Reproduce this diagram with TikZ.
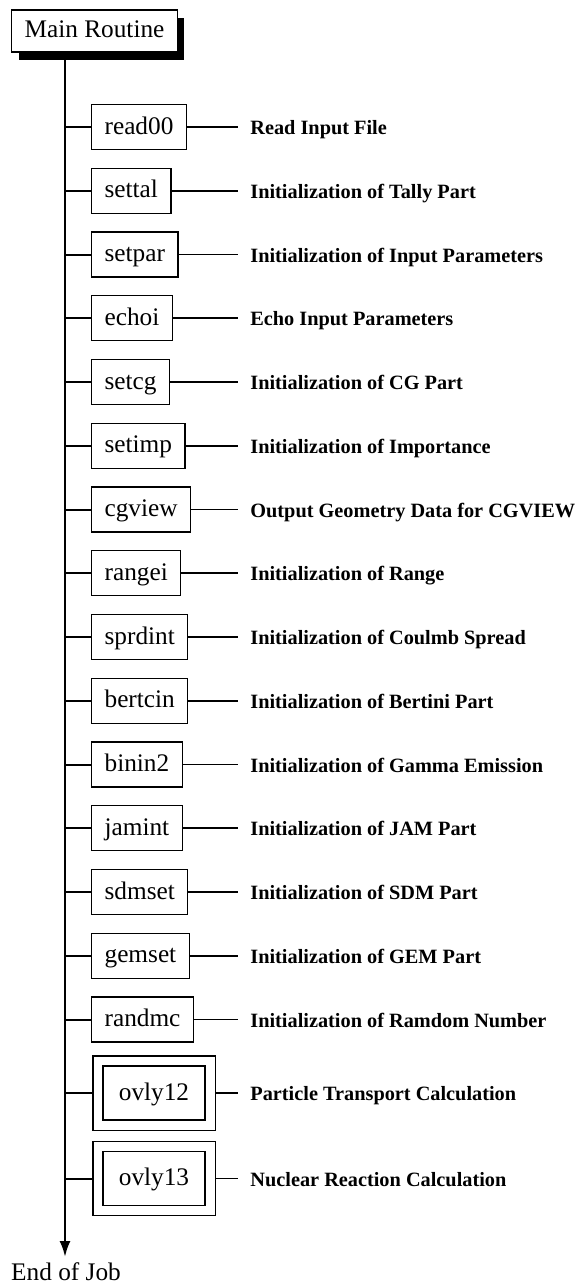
\documentclass[tikz,border=0pt]{standalone}
\usepackage{fontspec}
\setmainfont{Liberation Serif}
\usetikzlibrary{arrows.meta,shadows,fit}
\begin{document}
\begin{tikzpicture}[x=0.5pt,y=-0.5pt,
  boxtext/.style={font=\fontsize{12.65}{14}\selectfont, text height=0.7em, text depth=0pt},
  routine/.style={boxtext, draw, line width=0.6pt, anchor=west, inner xsep=6.5pt, inner ysep=0pt, minimum height=22.5pt},
  overlay box/.style={boxtext, draw, line width=0.6pt, inner sep=0pt, minimum width=51pt, minimum height=27pt},
  outer box/.style={draw, line width=0.6pt, inner sep=4.75pt},
  mainbox/.style={boxtext, draw, line width=0.6pt, fill=white, inner xsep=6.5pt, inner ysep=0pt, minimum height=21pt,
    drop shadow={shadow xshift=3.5pt, shadow yshift=-4pt, opacity=1, fill=black}},
  lbl/.style={font=\bfseries\fontsize{10.15}{12}\selectfont, anchor=base west, inner sep=0pt},
  trunk/.style={line width=1.2pt, -{Latex[length=8pt,width=5.5pt]}},
  stub/.style={line width=1pt},
  conn/.style={line width=0.8pt}]
\useasboundingbox (0,0) rectangle (581,1285);
\node[mainbox] (main) at (94.5,31) {Main Routine};
\coordinate (tip) at (65,1257);
\draw[trunk] (main.south -| tip) -- (tip);
\node[boxtext, anchor=base, inner sep=0pt] (end) at (66,1280) {End of Job};
\foreach \nm/\lab [count=\i from 0] in {
  read00/Read Input File,
  settal/Initialization of Tally Part,
  setpar/Initialization of Input Parameters,
  echoi/Echo Input Parameters,
  setcg/Initialization of CG Part,
  setimp/Initialization of Importance,
  cgview/Output Geometry Data for CGVIEW,
  rangei/Initialization of Range,
  sprdint/Initialization of Coulmb Spread,
  bertcin/Initialization of Bertini Part,
  binin2/Initialization of Gamma Emission,
  jamint/Initialization of JAM Part,
  sdmset/Initialization of SDM Part,
  gemset/Initialization of GEM Part,
  randmc/Initialization of Ramdom Number}{
  \node[routine] (b\i) at (91,{127+63.75*\i}) {\nm};
  \node[lbl] (l\i) at (250,{127+63.75*\i+7.5}) {\lab};
  \coordinate (c\i) at (238,{127+63.75*\i});
  \draw[stub] (b\i.west -| tip) -- (b\i.west);
  \draw[conn] (b\i.east) -- (c\i);
}
\foreach \nm/\lab/\y [count=\i from 15] in {
  ovly12/Particle Transport Calculation/1093,
  ovly13/Nuclear Reaction Calculation/1178.5}{
  \node[overlay box] (in\i) at (154,\y) {\nm};
  \node[outer box, fit=(in\i)] (b\i) {};
  \node[lbl] (l\i) at (250,{\y+7.5}) {\lab};
  \coordinate (c\i) at (238,\y);
  \draw[stub] (b\i.west -| tip) -- (b\i.west);
  \draw[conn] (b\i.east) -- (c\i);
}
\end{tikzpicture}
\end{document}
